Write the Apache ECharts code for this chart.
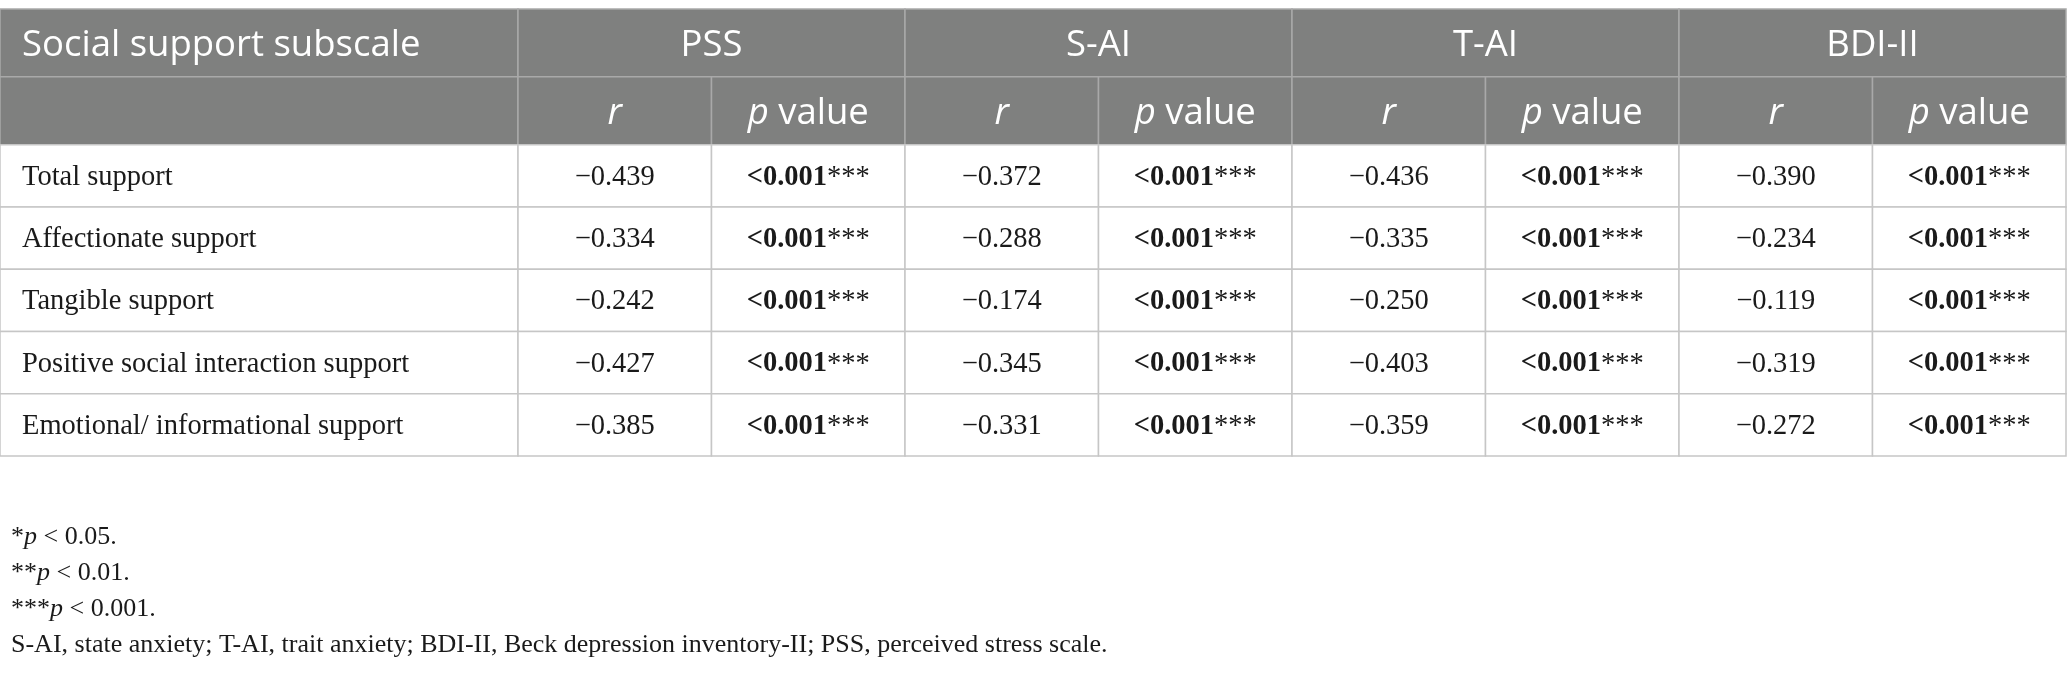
<!DOCTYPE html>
<html>
<head>
<meta charset="utf-8">
<script src="https://cdn.jsdelivr.net/npm/echarts@6/dist/echarts.min.js"></script>
<style>
html,body{margin:0;padding:0;background:#fff;}
#chart{width:2067px;height:674px;}
</style>
</head>
<body>
<div id="chart"></div>
<script>
// ---- data ----
const firstHeader = 'Social support subscale';
const measures = ['PSS', 'S-AI', 'T-AI', 'BDI-II'];
const subscales = ['Total support', 'Affectionate support', 'Tangible support', 'Positive social interaction support', 'Emotional/ informational support'];
const rPSS = [-0.439, -0.334, -0.242, -0.427, -0.385];
const rSAI = [-0.372, -0.288, -0.174, -0.345, -0.331];
const rTAI = [-0.436, -0.335, -0.250, -0.403, -0.359];
const rBDI = [-0.390, -0.234, -0.119, -0.319, -0.272];
const pPSS = ['<0.001', '<0.001', '<0.001', '<0.001', '<0.001'];
const pSAI = ['<0.001', '<0.001', '<0.001', '<0.001', '<0.001'];
const pTAI = ['<0.001', '<0.001', '<0.001', '<0.001', '<0.001'];
const pBDI = ['<0.001', '<0.001', '<0.001', '<0.001', '<0.001'];
const pStars = '***';
const footnotes = [
  ['*', 'p', ' < 0.05.'],
  ['**', 'p', ' < 0.01.'],
  ['***', 'p', ' < 0.001.'],
  ['', '', 'S-AI, state anxiety; T-AI, trait anxiety; BDI-II, Beck depression inventory-II; PSS, perceived stress scale.']
];

// ---- layout helpers (units of the axes) ----
const FIRST_W = 2.677;      // first column width in column units
const HEAD_H = 1.09;        // header row height in row units
function colEdge(c) { return c === 0 ? 0 : FIRST_W + (c - 1); }
function rowEdge(r) { return r <= 2 ? r * HEAD_H : 2 * HEAD_H + (r - 2); }
const X_MAX = colEdge(9);
const Y_MAX = rowEdge(7);

const SANS = '"Open Sans", "Noto Sans", sans-serif';
const SERIF = '"Liberation Serif", "DejaVu Serif", serif';

function fmtR(v) { return (v < 0 ? '\u2212' : '') + Math.abs(v).toFixed(3); }

// ---- build cells ----
const cells = [];
// header row 1
cells.push({ v: [0, 1, 0, 1], head: true, align: 'left', text: firstHeader });
measures.forEach((m, i) => cells.push({ v: [1 + 2 * i, 3 + 2 * i, 0, 1], head: true, align: 'center', text: m }));
// header row 2
cells.push({ v: [0, 1, 1, 2], head: true, align: 'left', text: '' });
measures.forEach((m, i) => {
  cells.push({ v: [1 + 2 * i, 2 + 2 * i, 1, 2], head: true, align: 'center', text: '{i|r}' });
  cells.push({ v: [2 + 2 * i, 3 + 2 * i, 1, 2], head: true, align: 'center', text: '{i|p} value' });
});
// body
const rCols = [rPSS, rSAI, rTAI, rBDI];
const pCols = [pPSS, pSAI, pTAI, pBDI];
subscales.forEach((s, r) => {
  cells.push({ v: [0, 1, 2 + r, 3 + r], head: false, align: 'left', text: s });
  rCols.forEach((arr, i) => {
    cells.push({ v: [1 + 2 * i, 2 + 2 * i, 2 + r, 3 + r], head: false, align: 'center', text: fmtR(arr[r]) });
    cells.push({ v: [2 + 2 * i, 3 + 2 * i, 2 + r, 3 + r], head: false, align: 'center', text: '{b|' + pCols[i][r] + '}{n|' + pStars + '}' });
  });
});

function renderCell(params, api) {
  const cell = cells[params.dataIndex];
  const p0 = api.coord([colEdge(api.value(0)), rowEdge(api.value(2))]);
  const p1 = api.coord([colEdge(api.value(1)), rowEdge(api.value(3))]);
  const x0 = p0[0], y0 = p0[1], w = p1[0] - p0[0], h = p1[1] - p0[1];
  const tx = cell.align === 'left' ? x0 + 22 : x0 + w / 2;
  const ty = y0 + h / 2 + (cell.head ? 3 : 1.5);
  const fs = cell.head ? 36.5 : 28.5;
  const ff = cell.head ? SANS : SERIF;
  const fill = cell.head ? '#ffffff' : '#1a1a1a';
  return {
    type: 'group',
    children: [
      {
        type: 'rect',
        shape: { x: x0, y: y0, width: w, height: h },
        style: { fill: cell.head ? '#7f807f' : '#ffffff', stroke: cell.head ? '#a9a9a9' : '#c6c6c6', lineWidth: 1.5 }
      },
      {
        type: 'text',
        z2: 10,
        style: {
          text: cell.text,
          x: tx, y: ty,
          align: cell.align, verticalAlign: 'middle',
          fontFamily: ff, fontSize: fs, fill: fill,
          rich: {
            i: { fontFamily: ff, fontSize: fs, fontStyle: 'italic', fill: fill },
            b: { fontFamily: ff, fontSize: fs, fontWeight: 'bold', fill: fill },
            n: { fontFamily: ff, fontSize: fs, fill: fill }
          }
        }
      }
    ]
  };
}

const chart = echarts.init(document.getElementById('chart'), null, { renderer: 'canvas' });

const FOOT_FS = 26;
const footGraphics = footnotes.map((f, k) => ({
  type: 'text',
  left: 11,
  top: 524 + k * 36,
  style: {
    text: (f[0] ? '{n|' + f[0] + '}' : '') + (f[1] ? '{i|' + f[1] + '}' : '') + '{n|' + f[2] + '}',
    fontFamily: SERIF, fontSize: FOOT_FS, fill: '#1a1a1a',
    rich: {
      n: { fontFamily: SERIF, fontSize: FOOT_FS, fill: '#1a1a1a' },
      i: { fontFamily: SERIF, fontSize: FOOT_FS, fontStyle: 'italic', fill: '#1a1a1a' }
    }
  }
}));

chart.setOption({
  animation: false,
  backgroundColor: '#ffffff',
  grid: { left: 0, right: 1, top: 9, height: 447, containLabel: false },
  xAxis: { type: 'value', min: 0, max: X_MAX, show: false },
  yAxis: { type: 'value', min: 0, max: Y_MAX, inverse: true, show: false },
  graphic: footGraphics,
  series: [{
    type: 'custom',
    clip: false,
    renderItem: renderCell,
    data: cells.map(c => c.v),
    dimensions: ['c0', 'c1', 'r0', 'r1'],
    encode: { x: [0, 1], y: [2, 3] },
    silent: true
  }]
});
</script>
</body>
</html>
